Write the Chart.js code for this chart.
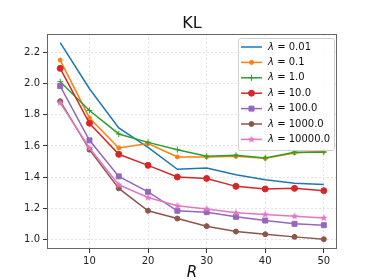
<!DOCTYPE html>
<html>
<head>
<meta charset="utf-8">
<script src="https://cdn.jsdelivr.net/npm/chart.js@4"></script>
<style>
  html, body { margin: 0; padding: 0; background: #fff; }
  #wrap { width: 374px; height: 280px; }
</style>
</head>
<body>
<div id="wrap"><canvas id="klChart" width="374" height="280"></canvas></div>
<script>
// data
const rValues = [5, 10, 15, 20, 25, 30, 35, 40, 45, 50];
const lambdaLabels = ['0.01', '0.1', '1.0', '10.0', '100.0', '1000.0', '10000.0'];
const kl_001 = [2.265, 1.968, 1.716, 1.59, 1.45, 1.458, 1.415, 1.383, 1.36, 1.352];
const kl_01 = [2.152, 1.78, 1.587, 1.615, 1.529, 1.529, 1.533, 1.52, 1.555, 1.565];
const kl_1 = [2.013, 1.828, 1.677, 1.623, 1.576, 1.533, 1.54, 1.522, 1.56, 1.56];
const kl_10 = [2.099, 1.746, 1.546, 1.475, 1.40, 1.391, 1.34, 1.323, 1.327, 1.312];
const kl_100 = [1.985, 1.636, 1.404, 1.305, 1.183, 1.174, 1.144, 1.12, 1.099, 1.09];
const kl_1000 = [1.888, 1.576, 1.327, 1.183, 1.133, 1.084, 1.049, 1.032, 1.015, 1.0];
const kl_10000 = [1.877, 1.587, 1.35, 1.268, 1.215, 1.195, 1.17, 1.159, 1.148, 1.137];
const xTicks = [10, 20, 30, 40, 50];
const yTicks = [1.0, 1.2, 1.4, 1.6, 1.8, 2.0, 2.2];

const colors = ['#1f77b4', '#ff7f0e', '#2ca02c', '#d62728', '#9467bd', '#8c564b', '#e377c2'];

// filled star marker (matplotlib '*')
function makeStar(color, size) {
    const c = document.createElement('canvas');
    c.width = size; c.height = size;
    const g = c.getContext('2d');
    const cx = size / 2, cy = size / 2, ro = size / 2, ri = ro * 0.42;
    g.beginPath();
    for (let i = 0; i < 10; i++) {
        const r = i % 2 ? ri : ro;
        const a = -Math.PI / 2 + i * Math.PI / 5;
        g.lineTo(cx + r * Math.cos(a), cy + r * Math.sin(a));
    }
    g.closePath();
    g.fillStyle = color;
    g.fill();
    return c;
}
const star = makeStar(colors[6], 8);

const series = [kl_001, kl_01, kl_1, kl_10, kl_100, kl_1000, kl_10000];
const markers = [
    { style: 'circle', r: 0 },
    { style: 'circle', r: 2 },
    { style: 'cross', r: 3 },
    { style: 'circle', r: 3 },
    { style: 'rect', r: 3.5 },
    { style: 'circle', r: 2.5 },
    { style: star, r: 4 }
];

const datasets = series.map((vals, i) => ({
    label: 'λ = ' + lambdaLabels[i],
    data: rValues.map((r, j) => ({ x: r, y: vals[j] })),
    borderColor: colors[i],
    backgroundColor: colors[i],
    pointBackgroundColor: colors[i],
    pointBorderColor: colors[i],
    pointBorderWidth: 1,
    pointStyle: markers[i].style,
    pointRadius: markers[i].r,
    borderWidth: 1.5,
    tension: 0,
    order: 6 - i
}));

// title, frame, axis label and legend drawn like matplotlib
const decor = {
    id: 'decor',
    afterDraw(chart) {
        const ctx = chart.ctx;
        const a = chart.chartArea;
        ctx.save();
        ctx.setLineDash([]);
        ctx.strokeStyle = '#666';
        ctx.lineWidth = 1;
        ctx.strokeRect(a.left + 0.5, a.top + 0.5, a.right - a.left - 1, a.bottom - a.top - 1);

        ctx.fillStyle = '#111';
        ctx.textAlign = 'center';
        ctx.textBaseline = 'alphabetic';
        ctx.font = '16px "DejaVu Sans"';
        ctx.fillText('KL', (a.left + a.right) / 2, 28);
        ctx.font = 'italic 15px "DejaVu Sans"';
        ctx.fillText('R', (a.left + a.right) / 2, 277);

        // legend
        const bx = 238, by = 38, bw = 96, bh = 112;
        ctx.fillStyle = 'rgba(255,255,255,0.85)';
        ctx.strokeStyle = '#d0d0d0';
        ctx.lineWidth = 1;
        ctx.beginPath();
        ctx.roundRect(bx + 0.5, by + 0.5, bw, bh, 2);
        ctx.fill();
        ctx.stroke();
        chart.data.datasets.forEach((ds, i) => {
            const y = 47 + i * 15.4;
            ctx.strokeStyle = ds.borderColor;
            ctx.lineWidth = 1.5;
            ctx.beginPath();
            ctx.moveTo(241, y);
            ctx.lineTo(262, y);
            ctx.stroke();
            if (ds.pointRadius > 0) {
                ctx.fillStyle = ds.pointBackgroundColor;
                ctx.strokeStyle = ds.pointBorderColor;
                ctx.lineWidth = 1;
                Chart.helpers.drawPoint(ctx, {
                    pointStyle: ds.pointStyle, radius: ds.pointRadius, rotation: 0, borderWidth: 1
                }, 251.5, y);
            }
            ctx.fillStyle = '#111';
            ctx.textAlign = 'left';
            ctx.textBaseline = 'middle';
            ctx.font = 'italic 10px "DejaVu Sans"';
            ctx.fillText('λ', 268, y);
            ctx.font = '10px "DejaVu Sans"';
            ctx.fillText(' = ' + lambdaLabels[i], 274, y);
        });
        ctx.restore();
    }
};

new Chart(document.getElementById('klChart'), {
    type: 'line',
    data: { datasets },
    options: {
        responsive: false,
        animation: false,
        layout: { padding: { top: 34, right: 37, left: 0, bottom: 0 } },
        plugins: { legend: { display: false }, tooltip: { enabled: false } },
        scales: {
            x: {
                type: 'linear',
                min: 2.75,
                max: 52.25,
                afterBuildTicks: s => { s.ticks = xTicks.map(v => ({ value: v })); },
                afterFit: s => { s.height = 31; },
                grid: { color: '#dcdcdc', lineWidth: 0.8, tickColor: '#333', tickLength: 4, tickWidth: 1 },
                border: { display: false, dash: [2, 2] },
                ticks: { color: '#222', font: { family: 'DejaVu Sans', size: 10 }, padding: 2, maxRotation: 0 }
            },
            y: {
                type: 'linear',
                min: 0.937,
                max: 2.32,
                afterBuildTicks: s => { s.ticks = yTicks.map(v => ({ value: v })); },
                afterFit: s => { s.width = 47; },
                grid: { color: '#dcdcdc', lineWidth: 0.8, tickColor: '#333', tickLength: 4, tickWidth: 1 },
                border: { display: false, dash: [2, 2] },
                ticks: {
                    color: '#222', font: { family: 'DejaVu Sans', size: 10 }, padding: 3,
                    callback: v => v.toFixed(1)
                }
            }
        }
    },
    plugins: [decor]
});
</script>
</body>
</html>
